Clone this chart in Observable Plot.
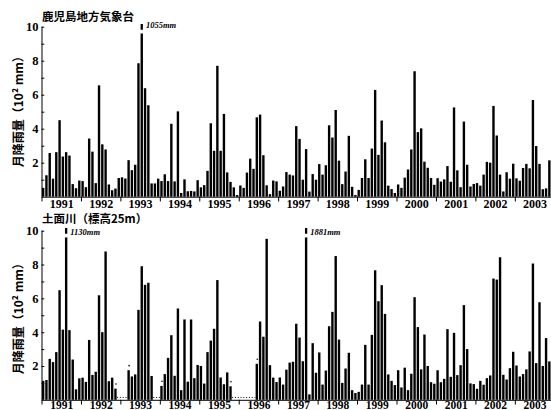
<!DOCTYPE html>
<html>
<head>
<meta charset="utf-8">
<script src="https://cdn.jsdelivr.net/npm/d3@7"></script>
<script src="https://cdn.jsdelivr.net/npm/@observablehq/plot@0.6"></script>
<style>
  html, body { margin: 0; padding: 0; background: #fff; overflow: hidden; }
  #chart { width: 551px; height: 410px; position: relative; overflow: hidden; }
  #chart svg { display: block; }
</style>
</head>
<body>
<div id="chart"></div>
<script>
// Monthly rainfall, in units of 100 mm, Jan 1991 – Nov 2003 (one row per year).
const years = [1991, 1992, 1993, 1994, 1995, 1996, 1997, 1998, 1999, 2000, 2001, 2002, 2003];

// 鹿児島地方気象台
const kagoshima = [
  [0.52, 1.26, 2.57, 1.06, 2.62, 4.50, 2.36, 2.62, 2.42, 0.74, 0.50, 0.95],
  [0.92, 0.56, 3.42, 2.65, 0.80, 6.55, 3.08, 2.78, 0.72, 0.38, 0.48, 1.10],
  [1.14, 1.07, 2.15, 1.56, 1.88, 7.85, 10.55, 6.38, 5.38, 0.78, 0.78, 1.06],
  [0.92, 1.32, 0.92, 4.29, 0.90, 5.02, 0.22, 1.02, 0.32, 0.34, 0.31, 0.97],
  [0.55, 0.68, 1.52, 4.32, 2.70, 7.70, 2.70, 4.87, 1.43, 0.87, 0.55, 0.10],
  [0.66, 0.52, 1.42, 2.24, 1.64, 4.67, 4.83, 2.44, 0.67, 0.15, 0.95, 0.90],
  [0.35, 0.60, 1.45, 1.30, 1.25, 4.15, 3.40, 1.00, 2.80, 0.30, 1.33, 1.00],
  [1.92, 1.30, 1.85, 4.20, 3.48, 5.10, 2.12, 0.74, 1.48, 3.58, 0.58, 0.10],
  [0.40, 1.10, 2.20, 1.10, 2.83, 6.28, 2.46, 4.48, 3.20, 0.65, 0.45, 0.22],
  [0.72, 0.52, 1.12, 1.60, 2.78, 7.38, 3.80, 4.02, 2.06, 1.70, 1.10, 0.70],
  [1.09, 0.89, 1.02, 1.80, 0.88, 5.25, 1.55, 0.56, 4.42, 1.88, 0.60, 0.75],
  [0.80, 0.65, 1.30, 2.05, 2.00, 5.34, 3.60, 1.30, 0.31, 1.44, 1.06, 1.94],
  [1.08, 0.94, 1.69, 1.93, 1.67, 5.69, 2.98, 1.93, 0.44, 0.49, 2.14]
];

// 土面川（標高25m）; null = no record for that month
const domen = [
  [1.12, 1.17, 2.42, 2.23, 2.82, 6.48, 4.15, 11.30, 4.12, 2.38, 0.62, 1.27],
  [1.31, 1.06, 3.54, 1.47, 1.66, 6.18, 4.00, 8.77, 1.10, 1.31, 0.66, null],
  [null, null, 1.75, 1.38, 1.50, 5.32, 7.90, 6.80, 6.92, 1.41, null, null],
  [0.82, 1.52, 2.48, 3.82, 1.42, 5.40, 0.57, 4.75, 1.07, 4.75, 1.28, 2.06],
  [2.00, 0.96, 2.82, 3.50, 4.20, 7.08, 1.32, 0.92, 1.62, 0.80, null, null],
  [null, null, null, null, null, 2.13, 4.63, 3.73, 9.52, 2.05, 1.31, 1.05],
  [1.32, 0.90, 1.78, 2.20, 2.25, 4.50, 3.68, 2.28, 18.81, 0.32, 3.35, 1.60],
  [2.80, 0.90, 1.73, 4.35, 5.20, 8.50, 3.56, 1.00, 1.85, 2.78, 0.57, 0.40],
  [0.47, 0.90, 3.25, 0.90, 3.84, 7.66, 5.83, 6.78, 5.08, 1.50, 1.12, 0.87],
  [1.75, 0.73, 1.90, 0.57, 1.54, 6.07, 4.30, 1.80, 3.86, 2.00, 1.04, 0.95],
  [1.75, 1.04, 1.24, 4.18, 1.36, 3.96, 1.46, 2.05, 5.60, 3.00, 0.97, 0.93],
  [0.65, 1.12, 0.89, 1.28, 1.44, 7.17, 7.11, 8.43, 1.48, 1.20, 1.87, 2.84],
  [2.03, 1.38, 1.52, 1.80, 2.86, 8.06, 2.17, 5.77, 2.00, 3.65, 2.27]
];

// months with an incomplete record (marked with a dot)
const domenPartial = ["1992-11", "1993-03", "1994-01", "1995-10", "1996-06"];

const yTicks = [2, 4, 6, 8, 10];
const yMinor = [1, 2, 3, 4, 5, 6, 7, 8, 9, 10];

const SERIF = "'Liberation Serif', 'Times New Roman', serif";
const CJK = "'Noto Sans CJK JP', 'Noto Sans CJK SC', sans-serif";
const NMONTHS = 155;     // Jan 1991 .. Nov 2003
const BREAK = 9.6;       // bars above 10 are cut here and capped

function panel(o) {
  const rows = o.values.flat().map((v, i) => {
    const y = years[0] + Math.floor(i / 12), m = (i % 12) + 1;
    return {i, v, key: `${y}-${String(m).padStart(2, "0")}`};
  });
  const shown = rows.filter(d => d.v != null);
  const over = shown.filter(d => d.v > 10);
  const flagged = shown.filter(d => (o.partial || []).includes(d.key));

  // runs of missing months, drawn as a dotted baseline
  const gaps = [];
  let start = null;
  rows.forEach((d, k) => {
    if (d.v == null && start == null) start = d.i;
    if (d.v != null && start != null) { gaps.push({x1: start, x2: d.i}); start = null; }
    if (k === rows.length - 1 && start != null) gaps.push({x1: start, x2: d.i + 1});
  });

  const boundaries = d3.range(1, years.length).map(k => k * 12);

  return Plot.plot({
    width: 551,
    height: o.height,
    marginLeft: 41.5,
    marginRight: 0,
    marginTop: o.marginTop,
    marginBottom: o.marginBottom,
    style: {fontFamily: SERIF, background: "#fff", color: "#000"},
    x: {type: "linear", domain: [0, NMONTHS], axis: null},
    y: {domain: [0, 10], axis: null},
    marks: [
      Plot.rect(shown, {
        x1: "i", x2: d => d.i + 1, y1: () => 0, y2: d => Math.min(d.v, BREAK),
        fill: "#000", insetLeft: 0.45, insetRight: 0.45
      }),
      Plot.rect(over, {
        x1: "i", x2: d => d.i + 1, y1: () => 9.82, y2: () => 10.16,
        fill: "#000", insetLeft: 0.5, insetRight: 0.5
      }),
      Plot.text(over, {
        x: d => d.i + 1, y: () => o.capLabelY, text: d => `${Math.round(d.v * 100)}mm`,
        textAnchor: "start", lineAnchor: "middle", dx: 2,
        fontSize: 8.5, fontStyle: "italic", fontWeight: "bold", fontFamily: SERIF
      }),
      Plot.dot(flagged, {x: d => d.i + 0.5, y: d => d.v + 0.3, r: 0.8, fill: "#000", stroke: null}),
      Plot.ruleY(gaps, {y: () => 0.17, x1: "x1", x2: "x2", stroke: "#000", strokeWidth: 1, strokeDasharray: "1,1.8"}),
      Plot.ruleY([0], {stroke: "#000", strokeWidth: 1}),
      Plot.ruleX([0], {y1: -0.28, y2: 10, stroke: "#000", strokeWidth: 1}),
      Plot.ruleX(boundaries, {x: d => d, y1: () => 0, y2: () => -0.28, stroke: "#000", strokeWidth: 1}),
      Plot.ruleY(yMinor, {y: d => d, x1: () => 0, x2: () => 0.85, stroke: "#000", strokeWidth: 1}),
      Plot.text(yTicks, {
        x: () => 0, y: d => d, text: d => String(d), textAnchor: "end", lineAnchor: "middle",
        dx: -3.5, fontSize: 12.5, fontWeight: "bold", fontFamily: SERIF
      }),
      Plot.text(years, {
        x: (d, k) => k * 12 + 6, y: () => 0, text: d => String(d), textAnchor: "middle",
        lineAnchor: "top", dy: o.yearDy, fontSize: o.yearSize, fontWeight: "bold", fontFamily: SERIF
      }),
      Plot.text([o.title], {
        frameAnchor: "top-left", text: d => d, textAnchor: "start", lineAnchor: "middle",
        dy: o.titleDy, fontSize: 11.5, fontWeight: "bold", fontFamily: CJK
      }),
      Plot.text(["月降雨量（10² mm）"], {
        frameAnchor: "left", text: d => d, rotate: -90, textAnchor: "middle", lineAnchor: "middle",
        dx: -22.5, dy: o.labelDy, fontSize: 12, fontWeight: "bold", fontFamily: CJK
      })
    ]
  });
}

const chart = document.getElementById("chart");
chart.append(panel({
  title: "鹿児島地方気象台", values: kagoshima,
  height: 210, marginTop: 26.7, marginBottom: 13.3,
  yearDy: 2, yearSize: 12, titleDy: -10, labelDy: -3.5, capLabelY: 10.12
}));
chart.append(panel({
  title: "土面川（標高25m）", values: domen, partial: domenPartial,
  height: 210, marginTop: 20.7, marginBottom: 20.2,
  yearDy: 0.8, yearSize: 11.5, titleDy: -12, labelDy: 0, capLabelY: 9.95
}));
</script>
</body>
</html>
